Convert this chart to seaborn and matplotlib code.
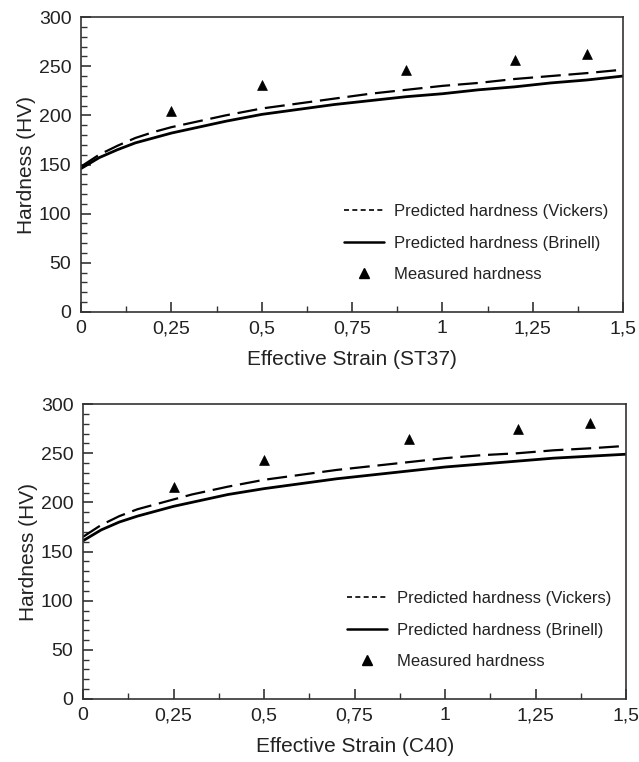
import numpy as np
import pandas as pd
import matplotlib
matplotlib.use("Agg")
import matplotlib.pyplot as plt
from matplotlib.lines import Line2D
from matplotlib.ticker import MultipleLocator
import seaborn as sns

# Predicted curves
strain_curve = [0.0, 0.05, 0.1, 0.15, 0.2, 0.25, 0.3, 0.4, 0.5, 0.6, 0.7, 0.8,
                0.9, 1.0, 1.1, 1.2, 1.3, 1.4, 1.5]

st37_vickers = [148, 160, 169, 177, 183, 188, 192, 200, 207, 212, 217, 222,
                226, 230, 233, 237, 240, 243, 246.5]
st37_brinell = [146, 157, 165, 172, 177, 182, 186, 194, 201, 206, 211, 215,
                219, 222, 226, 229, 233, 236, 240]

c40_vickers = [165, 177, 186, 193, 198, 203, 208, 216, 223, 228, 233, 237,
               241, 245, 248, 250, 253, 255, 257.5]
c40_brinell = [161, 172, 180, 186, 191, 196, 200, 208, 214, 219, 224, 228,
               232, 236, 239, 242, 245, 247, 249]

# Measured points
strain_meas = [0.25, 0.5, 0.9, 1.2, 1.4]
st37_measured = [204, 231, 246, 256, 262]
c40_measured = [216, 243, 264, 275, 281]

xtick_vals = [0, 0.25, 0.5, 0.75, 1, 1.25, 1.5]
xtick_labels = ["0", "0,25", "0,5", "0,75", "1", "1,25", "1,5"]

sns.set_theme(style="ticks")
plt.rcParams["font.family"] = ["Liberation Sans", "DejaVu Sans"]


def draw_panel(ax, vickers, brinell, measured, xlabel):
    df = pd.DataFrame({"strain": strain_curve, "vickers": vickers, "brinell": brinell})
    sns.lineplot(data=df, x="strain", y="vickers", ax=ax, color="black", lw=1.6)
    ax.lines[-1].set_dashes((9, 3.5))
    sns.lineplot(data=df, x="strain", y="brinell", ax=ax, color="black", lw=2.0)
    sns.scatterplot(x=strain_meas, y=measured, ax=ax, marker="^", color="black",
                    s=50, edgecolor="black", linewidth=0.5, zorder=5)

    ax.set_xlim(0, 1.5)
    ax.set_ylim(0, 300)
    ax.set_xticks(xtick_vals)
    ax.set_xticklabels(xtick_labels)
    ax.xaxis.set_minor_locator(MultipleLocator(0.125))
    ax.yaxis.set_major_locator(MultipleLocator(50))
    ax.yaxis.set_minor_locator(MultipleLocator(10))
    ax.tick_params(which="both", direction="in", top=False, right=False,
                   labelsize=14, colors="#333333", labelcolor="#222222")
    ax.tick_params(which="major", length=7, width=1.2)
    ax.tick_params(which="minor", length=4, width=1.0)
    ax.tick_params(axis="x", pad=6)
    ax.tick_params(axis="y", pad=7)
    for sp in ax.spines.values():
        sp.set_visible(True)
        sp.set_color("#333333")
        sp.set_linewidth(1.2)
    ax.set_xlabel(xlabel, fontsize=15, labelpad=9, color="#222222")
    ax.set_ylabel("Hardness (HV)", fontsize=15, labelpad=2, color="#222222")

    handles = [
        Line2D([], [], color="black", lw=1.2, dashes=(3, 2)),
        Line2D([], [], color="black", lw=1.8),
        Line2D([], [], color="black", marker="^", ls="none", markersize=7),
    ]
    labels = ["Predicted hardness (Vickers)", "Predicted hardness (Brinell)",
              "Measured hardness"]
    ax.legend(handles, labels, loc="lower right", bbox_to_anchor=(1.0, 0.05),
              frameon=False, fontsize=12, handlelength=2.4, labelspacing=1.0,
              handletextpad=0.6, labelcolor="#222222")


fig = plt.figure(figsize=(6.39, 7.62), dpi=100)
ax1 = fig.add_axes([0.127, 0.5906, 0.848, 0.387])
ax2 = fig.add_axes([0.130, 0.0827, 0.850, 0.387])

draw_panel(ax1, st37_vickers, st37_brinell, st37_measured, "Effective Strain (ST37)")
draw_panel(ax2, c40_vickers, c40_brinell, c40_measured, "Effective Strain (C40)")

fig.savefig("out.png", dpi=100)
